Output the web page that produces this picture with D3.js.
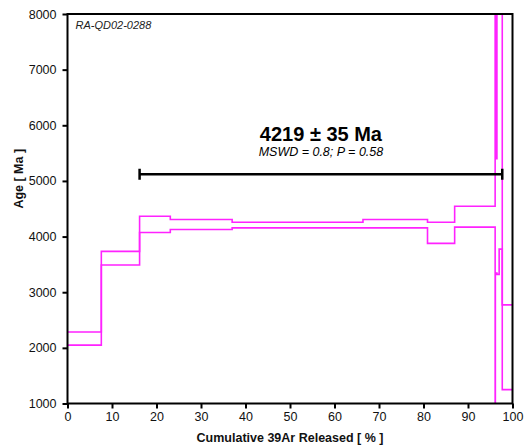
<!DOCTYPE html>
<html>
<head>
<meta charset="utf-8">
<script src="https://cdn.jsdelivr.net/npm/d3@7"></script>
<style>
  html, body { margin: 0; padding: 0; background: #fff; }
  svg { display: block; font-family: "Liberation Sans", Arial, sans-serif; }
</style>
</head>
<body>
<svg id="chart" width="525" height="448"></svg>
<script>
// Step boundaries, cumulative 39Ar released (%)
const cumBounds = [0, 7.6, 16.2, 23.1, 37.0, 66.4, 80.9, 87.0, 96.1, 96.15, 96.5, 97.0, 97.7, 100];
// Apparent age of each heating step (Ma)
const stepAges = [2167, 3611, 4220, 4217, 4207, 4231, 4068, 4357, 4500, 4372, 6500, 6500, 2011];
// Uncertainty of each step (Ma)
const stepErrors = [117, 123, 146, 90, 51, 75, 190, 188, 6000, 1028, 3180, 2725, 761];

// Plateau result
const plateauAge = 4219;
const plateauErr = 35;
const plateauMSWD = 0.8;
const plateauP = 0.58;
const plateauFirstStep = 2;   // index of first plateau step
const plateauLastStep = 11;   // index of last plateau step
const sampleName = "RA-QD02-0288";

// Axis ticks
const xTicks = [0, 10, 20, 30, 40, 50, 60, 70, 80, 90, 100];
const yTicks = [1000, 2000, 3000, 4000, 5000, 6000, 7000, 8000];

const svg = d3.select("#chart");
const W = 525, H = 448;
const margin = { top: 14, right: 12.5, bottom: 44.5, left: 67.5 };
const iw = W - margin.left - margin.right;
const ih = H - margin.top - margin.bottom;

const x = d3.scaleLinear().domain([0, 100]).range([0, iw]);
const y = d3.scaleLinear().domain([1000, 8000]).range([ih, 0]);

const g = svg.append("g").attr("transform", `translate(${margin.left},${margin.top})`);

g.append("clipPath").attr("id", "plotClip")
  .append("rect").attr("x", 0).attr("y", 0).attr("width", iw).attr("height", ih);

// Upper and lower envelopes of the age spectrum as step lines
function envelope(sign) {
  const pts = stepAges.map((a, i) => [cumBounds[i], a + sign * stepErrors[i]]);
  pts.push([cumBounds[cumBounds.length - 1], stepAges[stepAges.length - 1] + sign * stepErrors[stepErrors.length - 1]]);
  return pts;
}
const stepLine = d3.line()
  .x(d => x(d[0]))
  .y(d => y(d[1]))
  .curve(d3.curveStepAfter);

const spectrum = g.append("g").attr("clip-path", "url(#plotClip)");
[1, -1].forEach(s => {
  spectrum.append("path")
    .attr("d", stepLine(envelope(s)))
    .attr("fill", "none")
    .attr("stroke", "#ff22ff")
    .attr("stroke-width", 1.6);
});

// Plateau marker bar spanning the plateau steps
const barLevel = 5120;
const bx0 = x(cumBounds[plateauFirstStep]);
const bx1 = x(cumBounds[plateauLastStep + 1]);
const by = y(barLevel);
g.append("line").attr("x1", bx0).attr("x2", bx1).attr("y1", by).attr("y2", by)
  .attr("stroke", "#000").attr("stroke-width", 2.5);
[bx0, bx1].forEach(bx => {
  g.append("line").attr("x1", bx).attr("x2", bx).attr("y1", by - 5.5).attr("y2", by + 5.5)
    .attr("stroke", "#000").attr("stroke-width", 2.5);
});

const midX = (bx0 + bx1) / 2;
g.append("text")
  .attr("x", midX).attr("y", by - 33)
  .attr("text-anchor", "middle")
  .attr("font-weight", "bold").attr("font-size", 20)
  .attr("fill", "#000")
  .text(`${plateauAge} ± ${plateauErr} Ma`);
g.append("text")
  .attr("x", midX).attr("y", by - 18.5)
  .attr("text-anchor", "middle")
  .attr("font-style", "italic").attr("font-size", 12.5)
  .attr("fill", "#000")
  .text(`MSWD = ${plateauMSWD}; P = ${plateauP}`);

// Sample label
g.append("text")
  .attr("x", 8).attr("y", 14.5)
  .attr("font-style", "italic").attr("font-size", 11)
  .attr("fill", "#222")
  .text(sampleName);

// Axes
const xAxis = d3.axisBottom(x).tickValues(xTicks).tickSize(5).tickPadding(4).tickFormat(d3.format("d"));
const yAxis = d3.axisLeft(y).tickValues(yTicks).tickSize(5).tickPadding(6).tickFormat(d3.format("d"));

const gx = g.append("g").attr("transform", `translate(0,${ih})`).call(xAxis);
const gy = g.append("g").call(yAxis);
[gx, gy].forEach(a => {
  a.select(".domain").remove();
  a.selectAll(".tick line").attr("stroke", "#000").attr("stroke-width", 2);
  a.selectAll(".tick text").attr("font-size", 12.5).attr("fill", "#111")
    .attr("font-family", "Liberation Sans, Arial, sans-serif");
});

// Plot frame
g.append("rect").attr("x", 0).attr("y", 0).attr("width", iw).attr("height", ih)
  .attr("fill", "none").attr("stroke", "#000").attr("stroke-width", 2);

// Axis titles
g.append("text")
  .attr("x", iw / 2).attr("y", ih + 38.5)
  .attr("text-anchor", "middle")
  .attr("font-weight", "bold").attr("font-size", 12.5).attr("fill", "#111")
  .text("Cumulative 39Ar Released [ % ]");
g.append("text")
  .attr("transform", `translate(${-45},${ih / 2 - 30}) rotate(-90)`)
  .attr("text-anchor", "middle")
  .attr("font-weight", "bold").attr("font-size", 12.5).attr("fill", "#111")
  .text("Age [ Ma ]");
</script>
</body>
</html>
